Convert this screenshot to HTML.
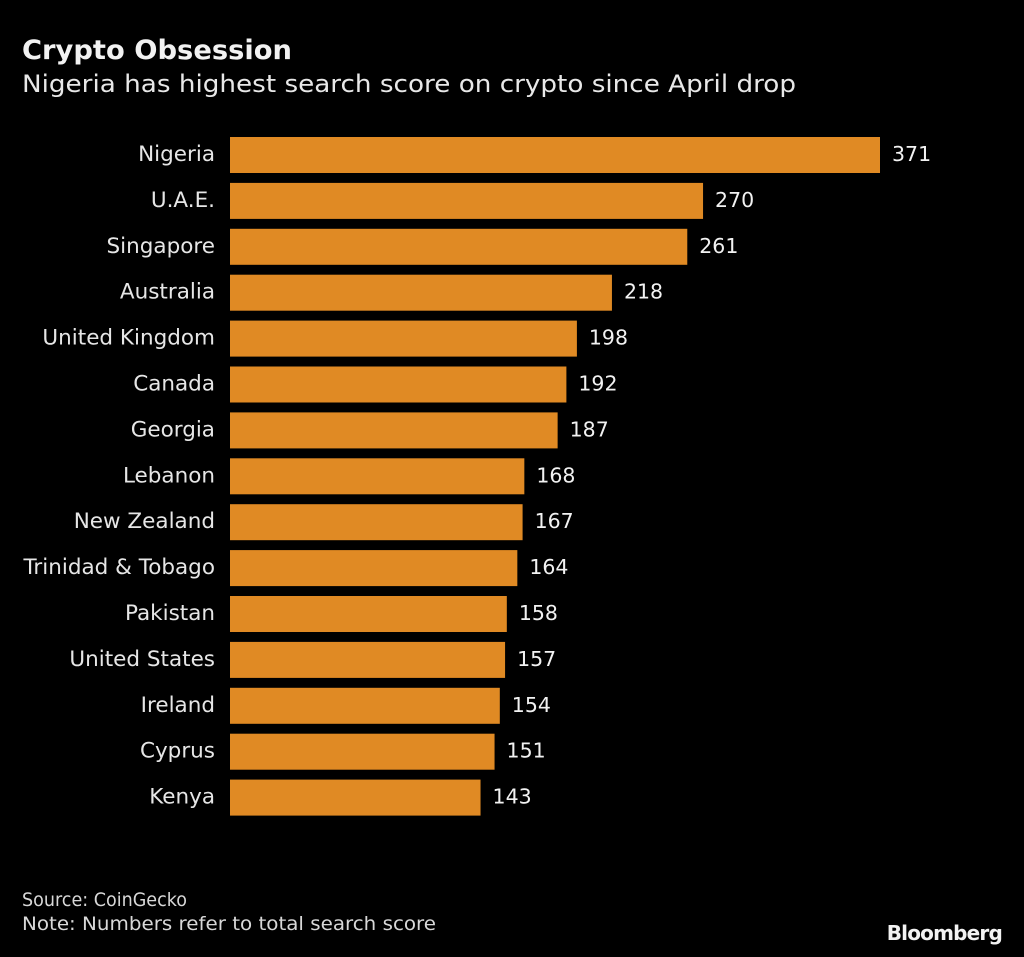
<!DOCTYPE html>
<html><head><meta charset="utf-8"><style>
html,body{margin:0;padding:0;background:#000;}
body{width:1024px;height:953px;overflow:hidden;font-family:"DejaVu Sans",sans-serif;}
svg text{font-family:"DejaVu Sans","Liberation Sans",sans-serif;}
</style></head><body>
<svg id="chart" width="1024" height="953" viewBox="0 0 1024 953" xmlns="http://www.w3.org/2000/svg">
<rect width="1024" height="953" fill="#000"/>
<text x="22" y="59" fill="#f2f2f2" font-size="27" font-weight="bold" textLength="270" lengthAdjust="spacingAndGlyphs">Crypto Obsession</text>
<text x="22" y="92" fill="#e8e8e8" font-size="24" textLength="774" lengthAdjust="spacingAndGlyphs">Nigeria has highest search score on crypto since April drop</text>
<g id="bars"></g>
<text x="22" y="906" fill="#d8d8d8" font-size="19" textLength="165" lengthAdjust="spacingAndGlyphs">Source: CoinGecko</text>
<text x="22" y="930" fill="#d8d8d8" font-size="19" textLength="414" lengthAdjust="spacingAndGlyphs">Note: Numbers refer to total search score</text>
<text x="1002" y="940" fill="#f2f2f2" font-size="20" font-weight="bold" text-anchor="end" letter-spacing="-0.8">Bloomberg</text>
</svg>
<script>
const categories=["Nigeria","U.A.E.","Singapore","Australia","United Kingdom","Canada","Georgia","Lebanon","New Zealand","Trinidad & Tobago","Pakistan","United States","Ireland","Cyprus","Kenya"];
const values=[371,270,261,218,198,192,187,168,167,164,158,157,154,151,143];
const x0=230, xScale=650/371;
const x=v=>x0+v*xScale;
const y=i=>137+i*45.9;
const g=document.getElementById('bars');
const NS="http://www.w3.org/2000/svg";
categories.forEach((c,i)=>{
  const r=document.createElementNS(NS,'rect');
  
  
  r.setAttribute('x',x0);r.setAttribute('y',y(i));
  r.setAttribute('width',x(values[i])-x0);r.setAttribute('height',36);
  r.setAttribute('fill','#E08A24');
  g.appendChild(r);
  const l=document.createElementNS(NS,'text');
  
  
  l.setAttribute('x',215);l.setAttribute('y',y(i)+24);
  l.setAttribute('text-anchor','end');l.setAttribute('fill','#e6e6e6');l.setAttribute('font-size','21.5');
  l.textContent=c;g.appendChild(l);
  const v=document.createElementNS(NS,'text');
  
  
  v.setAttribute('x',x(values[i])+12);v.setAttribute('y',y(i)+24);
  v.setAttribute('fill','#f2f2f2');v.setAttribute('font-size','20.5');
  v.textContent=values[i];g.appendChild(v);
});
</script>
</body></html>
